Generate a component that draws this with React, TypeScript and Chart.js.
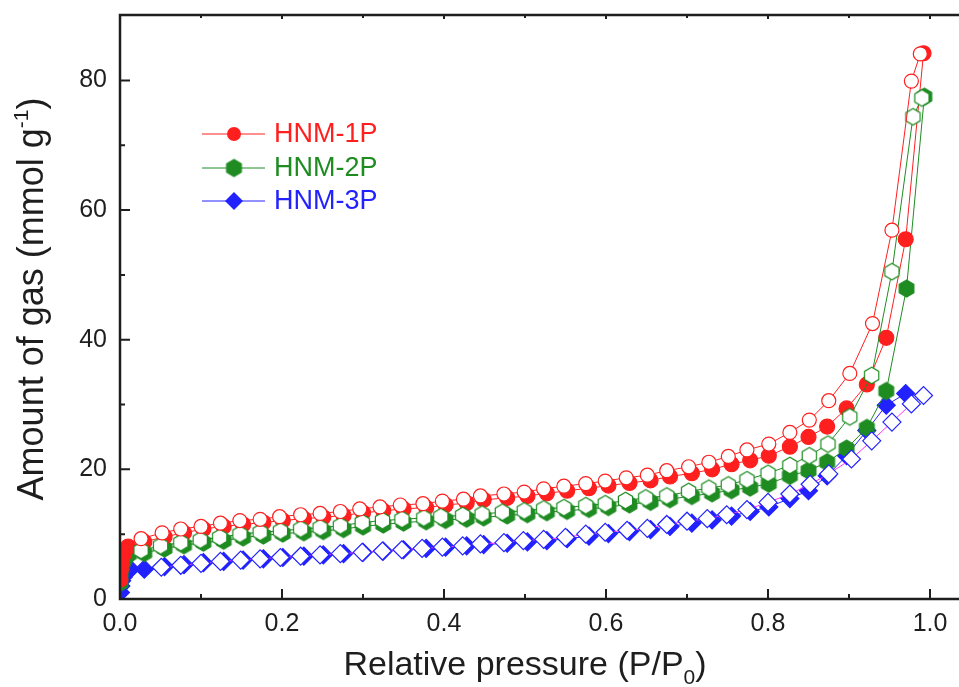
import React, { useEffect, useRef } from "react";
import { Chart, registerables } from "chart.js";

Chart.register(...registerables);

const W = 959;
const H = 687;

const seriesNames = ["HNM-1P", "HNM-2P", "HNM-3P"];

// HNM-1P adsorption (filled) and desorption (open)
const ads1P = [0.0005, 0.001, 0.002, 0.003, 0.005, 0.007, 0.010, 0.030, 0.055, 0.079, 0.103, 0.128, 0.152, 0.177, 0.201, 0.227, 0.251, 0.276, 0.300, 0.325, 0.350, 0.378, 0.402, 0.428, 0.449, 0.478, 0.503, 0.527, 0.552, 0.579, 0.603, 0.629, 0.655, 0.679, 0.706, 0.731, 0.755, 0.778, 0.801, 0.827, 0.850, 0.873, 0.897, 0.922, 0.946, 0.970, 0.992];
const ads1V = [3.0, 4.5, 5.6, 6.4, 7.0, 7.6, 8.1, 8.8, 9.6, 10.2, 10.8, 11.2, 11.5, 11.8, 12.1, 12.4, 12.6, 12.9, 13.3, 13.6, 13.9, 14.1, 14.5, 14.8, 15.3, 15.6, 15.9, 16.3, 16.7, 17.1, 17.5, 17.9, 18.3, 18.9, 19.4, 20.0, 20.8, 21.4, 22.1, 23.5, 25.0, 26.6, 29.4, 33.1, 40.3, 55.5, 84.2];
const des1P = [0.026, 0.052, 0.075, 0.100, 0.124, 0.148, 0.173, 0.197, 0.223, 0.247, 0.272, 0.296, 0.321, 0.346, 0.374, 0.398, 0.424, 0.445, 0.474, 0.499, 0.523, 0.548, 0.575, 0.599, 0.625, 0.651, 0.675, 0.702, 0.727, 0.751, 0.774, 0.801, 0.827, 0.851, 0.875, 0.901, 0.929, 0.953, 0.977, 0.988];
const des1V = [9.3, 10.2, 10.8, 11.2, 11.7, 12.1, 12.3, 12.7, 13.0, 13.2, 13.5, 13.9, 14.2, 14.5, 14.7, 15.1, 15.4, 15.9, 16.2, 16.5, 17.0, 17.4, 17.8, 18.2, 18.7, 19.1, 19.8, 20.4, 21.1, 22.0, 23.0, 23.9, 25.7, 27.6, 30.6, 34.8, 42.5, 56.9, 79.9, 84.1];

// HNM-2P
const ads2P = [0.0005, 0.001, 0.002, 0.004, 0.006, 0.008, 0.011, 0.030, 0.055, 0.079, 0.103, 0.128, 0.152, 0.177, 0.201, 0.227, 0.251, 0.276, 0.300, 0.325, 0.350, 0.378, 0.402, 0.428, 0.449, 0.478, 0.503, 0.527, 0.552, 0.579, 0.603, 0.629, 0.655, 0.679, 0.706, 0.731, 0.755, 0.778, 0.801, 0.827, 0.850, 0.873, 0.897, 0.922, 0.946, 0.971, 0.993];
const ads2V = [2.5, 4.0, 5.0, 5.8, 6.3, 6.7, 6.9, 7.1, 7.8, 8.3, 8.7, 9.0, 9.5, 9.8, 10.1, 10.3, 10.5, 10.8, 11.2, 11.5, 11.8, 12.0, 12.2, 12.4, 12.6, 12.9, 13.1, 13.4, 13.6, 13.9, 14.2, 14.6, 15.0, 15.4, 15.9, 16.3, 16.8, 17.2, 17.8, 19.0, 19.8, 21.1, 23.2, 26.4, 32.1, 47.9, 77.5];
const des2P = [0.026, 0.050, 0.075, 0.099, 0.123, 0.148, 0.173, 0.198, 0.223, 0.247, 0.272, 0.299, 0.324, 0.348, 0.375, 0.396, 0.423, 0.447, 0.472, 0.499, 0.523, 0.548, 0.575, 0.599, 0.624, 0.649, 0.675, 0.702, 0.727, 0.751, 0.774, 0.800, 0.827, 0.851, 0.874, 0.901, 0.928, 0.953, 0.979, 0.990];
const des2V = [7.5, 8.2, 8.7, 9.1, 9.5, 10.0, 10.3, 10.5, 10.8, 11.0, 11.3, 11.8, 12.1, 12.3, 12.5, 12.7, 12.9, 13.1, 13.4, 13.6, 13.9, 14.1, 14.4, 14.7, 15.2, 15.6, 15.9, 16.6, 17.1, 17.6, 18.4, 19.4, 20.6, 22.1, 23.9, 28.1, 34.5, 50.5, 74.4, 77.3];

// HNM-3P
const ads3P = [0.0005, 0.001, 0.002, 0.004, 0.006, 0.009, 0.013, 0.030, 0.055, 0.079, 0.103, 0.128, 0.152, 0.177, 0.201, 0.227, 0.251, 0.276, 0.300, 0.325, 0.350, 0.378, 0.402, 0.428, 0.449, 0.478, 0.503, 0.527, 0.552, 0.579, 0.603, 0.629, 0.655, 0.679, 0.706, 0.731, 0.755, 0.778, 0.801, 0.827, 0.850, 0.873, 0.897, 0.922, 0.946, 0.970];
const ads3V = [1.0, 2.0, 2.8, 3.4, 3.9, 4.3, 4.6, 4.6, 5.0, 5.3, 5.6, 5.8, 6.0, 6.2, 6.4, 6.6, 6.8, 7.0, 7.2, 7.4, 7.6, 7.8, 8.0, 8.2, 8.4, 8.6, 8.8, 9.0, 9.3, 9.7, 10.1, 10.4, 10.7, 11.2, 11.7, 12.2, 12.8, 13.5, 14.2, 15.5, 16.7, 19.0, 22.1, 26.0, 29.9, 31.7];
const des3P = [0.051, 0.075, 0.100, 0.124, 0.149, 0.173, 0.198, 0.223, 0.247, 0.272, 0.299, 0.324, 0.348, 0.373, 0.398, 0.423, 0.445, 0.474, 0.498, 0.523, 0.550, 0.575, 0.599, 0.626, 0.651, 0.675, 0.700, 0.725, 0.749, 0.774, 0.800, 0.827, 0.852, 0.875, 0.903, 0.928, 0.953, 0.977, 0.992];
const des3V = [4.9, 5.2, 5.5, 5.8, 6.0, 6.2, 6.4, 6.6, 6.8, 7.0, 7.2, 7.4, 7.6, 7.8, 8.0, 8.2, 8.5, 8.7, 9.0, 9.2, 9.5, 10.0, 10.3, 10.6, 10.9, 11.5, 12.0, 12.4, 13.0, 13.8, 14.9, 16.2, 17.7, 19.3, 21.6, 24.4, 27.3, 30.1, 31.4];

const xMajor = [0, 0.2, 0.4, 0.6, 0.8, 1.0];
const xMinor = [0.1, 0.3, 0.5, 0.7, 0.9];
const yMajor = [0, 20, 40, 60, 80];
const yMinor = [10, 30, 50, 70];
const X_MAX = 1.0358;
const Y_MAX = 90.1;

const RED = "#ff1f1f";
const GREEN = "#1f8c22";
const BLUE = "#2222ff";
const MAGENTA = "#ff33ff";
const AXIS = "#1e1e1e";
const FONT = 'Arial, "Liberation Sans", sans-serif';

function pts(xs: number[], ys: number[]) {
  return xs.map((x, i) => ({ x, y: ys[i] }));
}

function hexagon(fill: string, stroke: string, r: number) {
  const size = Math.ceil(r * 2 + 4);
  const c = document.createElement("canvas");
  c.width = size;
  c.height = size;
  const ctx = c.getContext("2d")!;
  const cx = size / 2;
  const cy = size / 2;
  ctx.beginPath();
  for (let i = 0; i < 6; i++) {
    const a = Math.PI / 2 + (i * Math.PI) / 3;
    const px = cx + r * Math.cos(a);
    const py = cy - r * Math.sin(a);
    if (i === 0) ctx.moveTo(px, py);
    else ctx.lineTo(px, py);
  }
  ctx.closePath();
  ctx.fillStyle = fill;
  ctx.fill();
  ctx.lineWidth = 1.2;
  ctx.strokeStyle = stroke;
  ctx.stroke();
  return c;
}

function drawRich(ctx: CanvasRenderingContext2D, parts: { t: string; size: number; dy: number }[], cx: number) {
  let total = 0;
  parts.forEach((p) => {
    ctx.font = `${p.size}px ${FONT}`;
    total += ctx.measureText(p.t).width;
  });
  let x = cx - total / 2;
  parts.forEach((p) => {
    ctx.font = `${p.size}px ${FONT}`;
    ctx.fillText(p.t, x, p.dy);
    x += ctx.measureText(p.t).width;
  });
}

function noPad(s: any) {
  s.paddingLeft = 0;
  s.paddingRight = 0;
  s.paddingTop = 0;
  s.paddingBottom = 0;
}

export default function App() {
  const ref = useRef<HTMLCanvasElement | null>(null);

  useEffect(() => {
    const canvas = ref.current;
    if (!canvas) return;
    const hexFill = hexagon(GREEN, GREEN, 8.5);
    const hexOpen = hexagon("#ffffff", GREEN, 8.2);

    const decor = {
      id: "decor",
      afterDraw(chart: any) {
        const { ctx, chartArea: ca } = chart;
        const xs = chart.scales.x;
        const ys = chart.scales.y;
        ctx.save();
        ctx.strokeStyle = AXIS;
        ctx.lineCap = "butt";
        // frame
        ctx.lineWidth = 2.5;
        ctx.beginPath();
        ctx.moveTo(W + 2, ca.top);
        ctx.lineTo(ca.left, ca.top);
        ctx.lineTo(ca.left, ca.bottom);
        ctx.lineTo(W + 2, ca.bottom);
        ctx.stroke();
        // ticks
        ctx.lineWidth = 2;
        ctx.beginPath();
        xMajor.forEach((v) => {
          const px = xs.getPixelForValue(v);
          ctx.moveTo(px, ca.bottom);
          ctx.lineTo(px, ca.bottom - 10);
          ctx.moveTo(px, ca.top);
          ctx.lineTo(px, ca.top + 4);
        });
        xMinor.forEach((v) => {
          const px = xs.getPixelForValue(v);
          ctx.moveTo(px, ca.bottom);
          ctx.lineTo(px, ca.bottom - 5);
          ctx.moveTo(px, ca.top);
          ctx.lineTo(px, ca.top + 3);
        });
        yMajor.forEach((v) => {
          const py = ys.getPixelForValue(v);
          ctx.moveTo(ca.left, py);
          ctx.lineTo(ca.left + 10, py);
        });
        yMinor.forEach((v) => {
          const py = ys.getPixelForValue(v);
          ctx.moveTo(ca.left, py);
          ctx.lineTo(ca.left + 5, py);
        });
        ctx.stroke();

        // axis titles
        ctx.fillStyle = AXIS;
        ctx.textBaseline = "alphabetic";
        ctx.textAlign = "left";
        const cxT = (xs.getPixelForValue(0) + xs.getPixelForValue(1)) / 2;
        ctx.save();
        ctx.translate(0, 675);
        drawRich(
          ctx,
          [
            { t: "Relative pressure (P/P", size: 34, dy: 0 },
            { t: "0", size: 21, dy: 9 },
            { t: ")", size: 34, dy: 0 },
          ],
          cxT
        );
        ctx.restore();

        ctx.save();
        ctx.translate(43, (ca.top + ca.bottom) / 2 - 8);
        ctx.rotate(-Math.PI / 2);
        drawRich(
          ctx,
          [
            { t: "Amount of gas (mmol g", size: 36, dy: 0 },
            { t: "-1", size: 21, dy: -15 },
            { t: ")", size: 36, dy: 0 },
          ],
          0
        );
        ctx.restore();

        // legend
        const rows = [134, 168, 201];
        const colors = [RED, GREEN, BLUE];
        rows.forEach((ry, i) => {
          ctx.strokeStyle = colors[i];
          ctx.lineWidth = 1;
          ctx.beginPath();
          ctx.moveTo(202, ry);
          ctx.lineTo(265, ry);
          ctx.stroke();
          ctx.fillStyle = colors[i];
          if (i === 0) {
            ctx.beginPath();
            ctx.arc(234, ry, 7, 0, Math.PI * 2);
            ctx.fill();
          } else if (i === 1) {
            ctx.drawImage(hexFill, 234 - hexFill.width / 2, ry - hexFill.height / 2);
          } else {
            ctx.beginPath();
            ctx.moveTo(234, ry - 9);
            ctx.lineTo(243, ry);
            ctx.lineTo(234, ry + 9);
            ctx.lineTo(225, ry);
            ctx.closePath();
            ctx.fill();
          }
          ctx.font = `27px ${FONT}`;
          ctx.textBaseline = "middle";
          ctx.fillText(seriesNames[i], 274, ry + 1);
        });
        ctx.restore();
      },
    };

    const common = { showLine: true, borderWidth: 1, tension: 0, pointBorderWidth: 1.2 };

    const chart = new Chart(canvas, {
      type: "scatter",
      data: {
        datasets: [
          {
            ...common,
            label: seriesNames[0] + " des",
            data: pts(des1P, des1V),
            borderColor: RED,
            pointStyle: "circle",
            pointRadius: 7,
            pointBackgroundColor: "#ffffff",
            pointBorderColor: RED,
            order: 0,
          },
          {
            ...common,
            label: seriesNames[1] + " des",
            data: pts(des2P, des2V),
            borderColor: GREEN,
            pointStyle: hexOpen,
            pointRadius: 8,
            order: 1,
          },
          {
            ...common,
            label: seriesNames[2] + " des",
            data: pts(des3P, des3V),
            borderColor: MAGENTA,
            pointStyle: "rectRot",
            pointRadius: 9,
            pointBackgroundColor: "#ffffff",
            pointBorderColor: BLUE,
            order: 2,
          },
          {
            ...common,
            label: seriesNames[0] + " ads",
            data: pts(ads1P, ads1V),
            borderColor: RED,
            pointStyle: "circle",
            pointRadius: 7.5,
            pointBackgroundColor: RED,
            pointBorderColor: RED,
            order: 3,
          },
          {
            ...common,
            label: seriesNames[1] + " ads",
            data: pts(ads2P, ads2V),
            borderColor: GREEN,
            pointStyle: hexFill,
            pointRadius: 8,
            order: 4,
          },
          {
            ...common,
            label: seriesNames[2] + " ads",
            data: pts(ads3P, ads3V),
            borderColor: BLUE,
            pointStyle: "rectRot",
            pointRadius: 9,
            pointBackgroundColor: BLUE,
            pointBorderColor: BLUE,
            order: 5,
          },
        ] as any,
      },
      options: {
        responsive: false,
        animation: false,
        events: [],
        layout: { autoPadding: false, padding: { top: 15, left: 0, right: 0, bottom: 0 } },
        plugins: { legend: { display: false }, tooltip: { enabled: false } },
        scales: {
          x: {
            type: "linear",
            min: 0,
            max: X_MAX,
            afterBuildTicks: (s: any) => {
              s.ticks = xMajor.map((v) => ({ value: v }));
            },
            afterFit: (s: any) => {
              s.height = 88;
              noPad(s);
            },
            grid: { display: false, drawTicks: false },
            border: { display: false },
            ticks: {
              autoSkip: false,
              maxRotation: 0,
              padding: 10,
              color: AXIS,
              font: { family: FONT, size: 25 },
              callback: (v: any) => Number(v).toFixed(1),
            },
          },
          y: {
            type: "linear",
            min: 0,
            max: Y_MAX,
            afterBuildTicks: (s: any) => {
              s.ticks = yMajor.map((v) => ({ value: v }));
            },
            afterFit: (s: any) => {
              s.width = 120;
              noPad(s);
            },
            grid: { display: false, drawTicks: false },
            border: { display: false },
            ticks: {
              autoSkip: false,
              padding: 13,
              color: AXIS,
              font: { family: FONT, size: 25 },
              callback: (v: any) => String(v),
            },
          },
        },
      } as any,
      plugins: [decor],
    });
    return () => chart.destroy();
  }, []);

  return (
    <div style={{ position: "absolute", left: 0, top: 0, width: W, height: H, background: "#ffffff" }}>
      <canvas ref={ref} width={W} height={H} style={{ display: "block", width: W, height: H }} />
    </div>
  );
}
